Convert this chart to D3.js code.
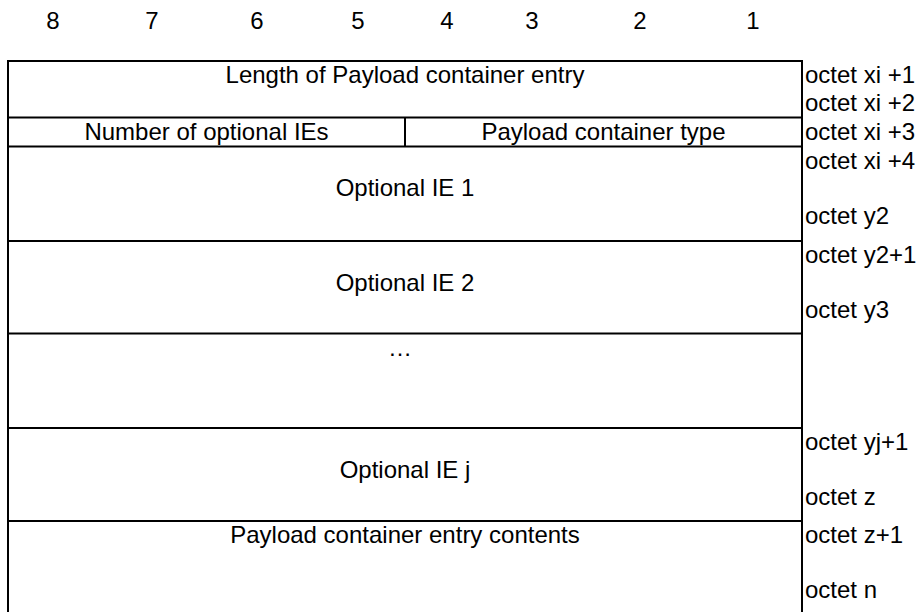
<!DOCTYPE html>
<html>
<head>
<meta charset="utf-8">
<script src="https://cdn.jsdelivr.net/npm/d3@7"></script>
<style>
  html, body { margin: 0; padding: 0; background: #fff; overflow: hidden; }
  svg { display: block; }
  text { font-family: "Liberation Sans", Arial, sans-serif; fill: #000; }
</style>
</head>
<body>
<svg id="chart" width="921" height="612"></svg>
<script>
// ---- data ----
const bits = [8, 7, 6, 5, 4, 3, 2, 1];
const rowLabels = [
  ["Length of Payload container entry"],
  ["Number of optional IEs", "Payload container type"],
  ["Optional IE 1"],
  ["Optional IE 2"],
  ["\u2026"],
  ["Optional IE j"],
  ["Payload container entry contents"]
];
const octetLabels = [
  ["octet xi +1", "octet xi +2"],
  ["octet xi +3"],
  ["octet xi +4", "", "octet y2"],
  ["octet y2+1", "", "octet y3"],
  ["", "", ""],
  ["octet yj+1", "", "octet z"],
  ["octet z+1", "", "octet n"]
];
// line (within row) on which the row label sits
const labelLine = [0, 0, 1, 1, 0, 1, 0];

// ---- layout ----
const W = 921, H = 612;
const tableLeft = 8, tableRight = 802, fieldSplit = 405;
const tableTop = 61;
const rowHeights = [56.5, 29, 94.5, 92.5, 94.5, 93, 96];
const bitCentres = [53, 152, 257, 358, 447, 532, 640, 753];
const fontSize = 24, lineH = 27.5, firstBase = 22;
const stroke = 2;

const svg = d3.select("#chart");

// y scale: row index -> top
const rowTops = [tableTop];
rowHeights.forEach((h, i) => rowTops.push(rowTops[i] + h));
const y = d3.scaleOrdinal().domain(d3.range(rowTops.length)).range(rowTops);
const x = d3.scaleOrdinal().domain(bits).range(bitCentres);

// bit numbers
svg.append("g").selectAll("text").data(bits).join("text")
  .attr("x", d => x(d)).attr("y", 29)
  .attr("text-anchor", "middle")
  .attr("font-size", fontSize)
  .text(d => d);

const g = svg.append("g");

// horizontal row lines (top of each row)
g.selectAll("line.h").data(d3.range(rowHeights.length)).join("line")
  .attr("class", "h")
  .attr("x1", tableLeft - stroke / 2).attr("x2", tableRight + stroke / 2)
  .attr("y1", d => y(d)).attr("y2", d => y(d))
  .attr("stroke", "#000").attr("stroke-width", stroke);

// vertical borders
g.append("line")
  .attr("x1", tableLeft).attr("x2", tableLeft)
  .attr("y1", tableTop).attr("y2", y(rowHeights.length))
  .attr("stroke", "#000").attr("stroke-width", stroke);
g.append("line")
  .attr("x1", tableRight).attr("x2", tableRight)
  .attr("y1", tableTop).attr("y2", y(rowHeights.length))
  .attr("stroke", "#000").attr("stroke-width", stroke);
g.append("line")
  .attr("x1", fieldSplit).attr("x2", fieldSplit)
  .attr("y1", y(1)).attr("y2", y(2))
  .attr("stroke", "#000").attr("stroke-width", stroke);

// row labels
rowLabels.forEach((labels, i) => {
  const base = y(i) + firstBase + labelLine[i] * lineH;
  if (labels.length === 1) {
    g.append("text")
      .attr("x", labels[0] === "\u2026" ? 400 : (tableLeft + tableRight) / 2)
      .attr("y", base)
      .attr("text-anchor", "middle").attr("font-size", fontSize)
      .text(labels[0]);
  } else {
    const cells = [[tableLeft, fieldSplit], [fieldSplit, tableRight]];
    labels.forEach((t, j) => {
      g.append("text")
        .attr("x", (cells[j][0] + cells[j][1]) / 2)
        .attr("y", base)
        .attr("text-anchor", "middle").attr("font-size", fontSize)
        .text(t);
    });
  }
});

// octet labels
octetLabels.forEach((labels, i) => {
  labels.forEach((t, j) => {
    if (!t) return;
    g.append("text")
      .attr("x", tableRight + 3)
      .attr("y", y(i) + firstBase + j * lineH)
      .attr("font-size", fontSize)
      .text(t);
  });
});
</script>
</body>
</html>
